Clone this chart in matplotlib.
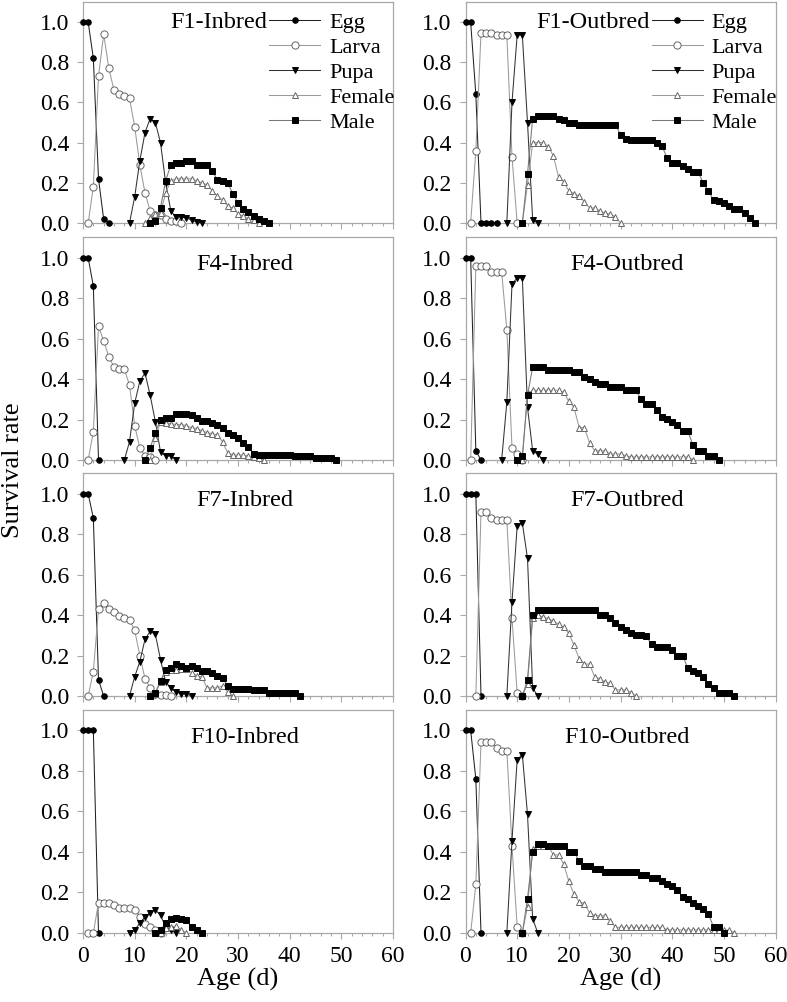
import numpy as np
import matplotlib
matplotlib.use("Agg")
import matplotlib.pyplot as plt
from matplotlib.ticker import MultipleLocator, FormatStrFormatter

plt.rcParams['font.family'] = ['Liberation Serif', 'DejaVu Serif']

# each series: (first day, values day by day)
F1_IN_EGG = (0, [1.0, 1.0, 0.82, 0.22, 0.02, 0.0])
F1_IN_LARVA = (1, [0.0, 0.18, 0.73, 0.94, 0.77, 0.66, 0.64, 0.63, 0.62, 0.48, 0.29, 0.15, 0.06, 0.04, 0.04, 0.02, 0.01, 0.01, 0.0])
F1_IN_PUPA = (9, [0.0, 0.13, 0.31, 0.45, 0.52, 0.50, 0.40, 0.20, 0.06, 0.03, 0.03, 0.025, 0.015, 0.005, 0.0])
F1_IN_FEMALE = (12, [0.0, 0.025, 0.045, 0.05, 0.15, 0.21, 0.22, 0.22, 0.22, 0.22, 0.21, 0.20, 0.19, 0.16, 0.135, 0.115, 0.085, 0.075, 0.045, 0.035, 0.02, 0.015, 0.0])
F1_IN_MALE = (13, [0.0, 0.01, 0.075, 0.21, 0.29, 0.30, 0.30, 0.31, 0.31, 0.29, 0.29, 0.29, 0.26, 0.215, 0.21, 0.20, 0.145, 0.10, 0.07, 0.055, 0.035, 0.02, 0.01, 0.0])

F1_OUT_EGG = (0, [1.0, 1.0, 0.64, 0.0, 0.0, 0.0, 0.0])
F1_OUT_LARVA = (1, [0.0, 0.36, 0.945, 0.945, 0.945, 0.935, 0.935, 0.935, 0.33, 0.0])
F1_OUT_PUPA = (8, [0.0, 0.60, 0.935, 0.935, 0.50, 0.015, 0.0])
F1_OUT_FEMALE = (11, [0.0, 0.19, 0.40, 0.40, 0.40, 0.38, 0.335, 0.23, 0.205, 0.16, 0.145, 0.135, 0.105, 0.075, 0.075, 0.06, 0.05, 0.045, 0.03, 0.0])
F1_OUT_MALE = (11, [0.0, 0.245, 0.52, 0.535, 0.535, 0.535, 0.535, 0.52, 0.513, 0.50, 0.50,
                    0.49, 0.49, 0.49, 0.49, 0.49, 0.49, 0.49, 0.49, 0.44, 0.42,
                    0.415, 0.415, 0.415, 0.415, 0.415, 0.40, 0.385, 0.325, 0.30, 0.30,
                    0.285, 0.27, 0.255, 0.255, 0.20, 0.16, 0.115, 0.11, 0.10, 0.085,
                    0.07, 0.07, 0.05, 0.026, 0.0])

F4_IN_EGG = (0, [1.0, 1.0, 0.86, 0.0])
F4_IN_LARVA = (1, [0.0, 0.14, 0.66, 0.59, 0.51, 0.46, 0.45, 0.45, 0.37, 0.17, 0.06, 0.02, 0.013, 0.0])
F4_IN_PUPA = (8, [0.0, 0.09, 0.28, 0.39, 0.43, 0.32, 0.19, 0.04, 0.02, 0.02, 0.0])
F4_IN_FEMALE = (13, [0.0, 0.11, 0.19, 0.185, 0.18, 0.175, 0.175, 0.17, 0.16, 0.155, 0.145, 0.135, 0.13, 0.125, 0.09, 0.035, 0.025, 0.025, 0.025, 0.02, 0.015, 0.01, 0.0])
F4_IN_MALE = (12, [0.0, 0.06, 0.135, 0.20, 0.21, 0.21, 0.225, 0.225, 0.225, 0.22, 0.21,
                   0.195, 0.195, 0.185, 0.175, 0.16, 0.135, 0.125, 0.11, 0.085, 0.065, 0.03,
                   0.025, 0.025, 0.025, 0.025, 0.025, 0.025, 0.025,
                   0.018, 0.018, 0.018, 0.018, 0.012, 0.012, 0.012, 0.012, 0.0])

F4_OUT_EGG = (0, [1.0, 1.0, 0.045, 0.0])
F4_OUT_LARVA = (1, [0.0, 0.96, 0.96, 0.96, 0.93, 0.93, 0.93, 0.645, 0.06, 0.03, 0.0])
F4_OUT_PUPA = (7, [0.0, 0.285, 0.87, 0.90, 0.90, 0.26, 0.045, 0.03, 0.0])
F4_OUT_FEMALE = (11, [0.0, 0.33, 0.345, 0.345, 0.345, 0.345, 0.345, 0.345, 0.335, 0.29, 0.26,
                      0.16, 0.16, 0.085, 0.045, 0.045, 0.045, 0.03, 0.03, 0.03, 0.02,
                      0.015, 0.015, 0.015, 0.015, 0.015, 0.015, 0.015, 0.015, 0.015, 0.015,
                      0.015, 0.015, 0.0])
F4_OUT_MALE = (10, [0.0, 0.02, 0.32, 0.46, 0.46, 0.46, 0.445, 0.445, 0.445, 0.445, 0.445,
                    0.435, 0.435, 0.41, 0.40, 0.385, 0.375, 0.375, 0.36, 0.36, 0.36,
                    0.345, 0.345, 0.345, 0.30, 0.275, 0.275, 0.245, 0.215, 0.205, 0.19,
                    0.175, 0.145, 0.145, 0.075, 0.045, 0.045, 0.02, 0.02, 0.0])

F7_IN_EGG = (0, [1.0, 1.0, 0.88, 0.08, 0.0])
F7_IN_LARVA = (1, [0.0, 0.12, 0.43, 0.46, 0.43, 0.415, 0.395, 0.385, 0.375, 0.325, 0.20, 0.085, 0.04, 0.012, 0.007, 0.007, 0.0])
F7_IN_PUPA = (9, [0.0, 0.095, 0.17, 0.28, 0.32, 0.305, 0.18, 0.07, 0.04, 0.02, 0.01, 0.01, 0.0])
F7_IN_FEMALE = (13, [0.0, 0.01, 0.07, 0.12, 0.13, 0.13, 0.135, 0.135, 0.115, 0.10, 0.095, 0.04, 0.04, 0.04, 0.05, 0.02, 0.0])
F7_IN_MALE = (13, [0.0, 0.017, 0.075, 0.13, 0.14, 0.16, 0.148, 0.14, 0.148, 0.14, 0.125,
                   0.125, 0.115, 0.10, 0.09, 0.048, 0.036, 0.036, 0.036, 0.036, 0.028,
                   0.028, 0.028, 0.017, 0.017, 0.017, 0.017, 0.017, 0.017, 0.0])

F7_OUT_EGG = (0, [1.0, 1.0, 1.0, 0.0])
F7_OUT_LARVA = (2, [0.0, 0.91, 0.91, 0.88, 0.87, 0.87, 0.87, 0.385, 0.015, 0.0])
F7_OUT_PUPA = (8, [0.0, 0.465, 0.84, 0.855, 0.68, 0.04, 0.0])
F7_OUT_FEMALE = (11, [0.0, 0.06, 0.385, 0.40, 0.39, 0.383, 0.37, 0.355, 0.34, 0.31, 0.25,
                      0.185, 0.158, 0.158, 0.095, 0.084, 0.07, 0.062, 0.03, 0.03, 0.03,
                      0.016, 0.0])
F7_OUT_MALE = (11, [0.0, 0.08, 0.40, 0.425, 0.425, 0.425, 0.425, 0.425, 0.425, 0.425, 0.425,
                    0.425, 0.425, 0.425, 0.425, 0.40, 0.40, 0.385, 0.36, 0.34, 0.325,
                    0.31, 0.30, 0.30, 0.295, 0.255, 0.24, 0.24, 0.24, 0.225, 0.20,
                    0.20, 0.14, 0.125, 0.115, 0.095, 0.058, 0.04, 0.015, 0.015, 0.015, 0.0])

F10_IN_EGG = (0, [1.0, 1.0, 1.0, 0.0])
F10_IN_LARVA = (1, [0.0, 0.0, 0.15, 0.15, 0.15, 0.14, 0.125, 0.125, 0.125, 0.115, 0.08, 0.043, 0.03, 0.013, 0.0])
F10_IN_PUPA = (9, [0.0, 0.013, 0.05, 0.08, 0.10, 0.115, 0.087, 0.03, 0.013, 0.0])
F10_IN_FEMALE = (15, [0.0, 0.025, 0.03, 0.035, 0.015, 0.0])
F10_IN_MALE = (14, [0.0, 0.013, 0.05, 0.07, 0.075, 0.067, 0.062, 0.03, 0.013, 0.0])

F10_OUT_EGG = (0, [1.0, 1.0, 0.76, 0.0])
F10_OUT_LARVA = (1, [0.0, 0.24, 0.94, 0.94, 0.94, 0.915, 0.90, 0.90, 0.43, 0.03, 0.0])
F10_OUT_PUPA = (8, [0.0, 0.455, 0.855, 0.88, 0.585, 0.07, 0.0])
F10_OUT_FEMALE = (11, [0.0, 0.13, 0.415, 0.43, 0.43, 0.43, 0.385, 0.385, 0.34, 0.255, 0.19,
                       0.155, 0.145, 0.10, 0.085, 0.085, 0.085, 0.06,
                       0.028, 0.028, 0.028, 0.028, 0.028, 0.028, 0.028, 0.028, 0.028, 0.028,
                       0.015, 0.015, 0.015, 0.015, 0.015, 0.015, 0.015, 0.015, 0.015, 0.015,
                       0.015, 0.015, 0.015, 0.0])
F10_OUT_MALE = (11, [0.0, 0.17, 0.40, 0.44, 0.44, 0.43, 0.43, 0.43, 0.43, 0.40, 0.40,
                     0.355, 0.33, 0.33, 0.315, 0.315, 0.30, 0.30, 0.30, 0.30, 0.30,
                     0.30, 0.30, 0.285, 0.285, 0.27, 0.27, 0.255, 0.24, 0.23, 0.21,
                     0.18, 0.17, 0.15, 0.135, 0.12, 0.095, 0.03, 0.03, 0.0])

STAGES = ['Egg', 'Larva', 'Pupa', 'Female', 'Male']
PANEL_TITLES = ['F1-Inbred', 'F1-Outbred', 'F4-Inbred', 'F4-Outbred',
                'F7-Inbred', 'F7-Outbred', 'F10-Inbred', 'F10-Outbred']
PANEL_DATA = [
    [F1_IN_EGG, F1_IN_LARVA, F1_IN_PUPA, F1_IN_FEMALE, F1_IN_MALE],
    [F1_OUT_EGG, F1_OUT_LARVA, F1_OUT_PUPA, F1_OUT_FEMALE, F1_OUT_MALE],
    [F4_IN_EGG, F4_IN_LARVA, F4_IN_PUPA, F4_IN_FEMALE, F4_IN_MALE],
    [F4_OUT_EGG, F4_OUT_LARVA, F4_OUT_PUPA, F4_OUT_FEMALE, F4_OUT_MALE],
    [F7_IN_EGG, F7_IN_LARVA, F7_IN_PUPA, F7_IN_FEMALE, F7_IN_MALE],
    [F7_OUT_EGG, F7_OUT_LARVA, F7_OUT_PUPA, F7_OUT_FEMALE, F7_OUT_MALE],
    [F10_IN_EGG, F10_IN_LARVA, F10_IN_PUPA, F10_IN_FEMALE, F10_IN_MALE],
    [F10_OUT_EGG, F10_OUT_LARVA, F10_OUT_PUPA, F10_OUT_FEMALE, F10_OUT_MALE],
]

# marker style for each stage
styles = {
    'Egg':    dict(marker='o', color='#222222', mfc='black', mec='black', ms=4.0),
    'Larva':  dict(marker='o', color='#9a9a9a', mfc='white', mec='#666666', ms=5.2),
    'Pupa':   dict(marker='v', color='#333333', mfc='black', mec='black', ms=4.5),
    'Female': dict(marker='^', color='#9a9a9a', mfc='white', mec='#666666', ms=4.5),
    'Male':   dict(marker='s', color='#777777', mfc='black', mec='black', ms=4.2),
}

fig = plt.figure(figsize=(7.87, 10.02), dpi=100)

W, H = 787.0, 1002.0
col_x = [83.0, 465.5]
panel_w = 310.0
row_top = [2.0, 237.5, 473.5, 710.0]
row_bot = [223.0, 460.0, 696.0, 933.0]
spine_c = '#a8a8a8'

axes = []
for i in range(8):
    r, c = i // 2, i % 2
    ax = fig.add_axes([col_x[c] / W, 1 - row_bot[r] / H, panel_w / W, (row_bot[r] - row_top[r]) / H])
    axes.append(ax)
    for name, (start, vals) in zip(STAGES, PANEL_DATA[i]):
        days = np.arange(start, start + len(vals))
        ax.plot(days, vals, lw=0.75, mew=0.7, label=name, clip_on=False, zorder=3, **styles[name])
    ax.set_xlim(0, 60)
    ax.set_ylim(0, 1.1)
    ax.xaxis.set_major_locator(MultipleLocator(10))
    ax.xaxis.set_minor_locator(MultipleLocator(2))
    ax.set_yticks([0, 0.2, 0.4, 0.6, 0.8, 1.0])
    ax.yaxis.set_major_formatter(FormatStrFormatter('%.1f'))
    ax.tick_params(direction='out', color=spine_c, labelsize=17, length=4, width=0.8)
    ax.tick_params(axis='x', which='minor', direction='out', color=spine_c, length=2.5, width=0.8)
    ax.tick_params(axis='y', pad=6)
    ax.tick_params(axis='x', pad=5)
    for s in ax.spines.values():
        s.set_color(spine_c)
        s.set_linewidth(0.9)
    if r < 3:
        ax.tick_params(axis='x', labelbottom=False)
    else:
        ax.set_xlabel('Age (d)', fontsize=19, labelpad=1)

    if r == 0:
        ax.text(35.6, 1.0, PANEL_TITLES[i], fontsize=17.5, ha='right', va='center')
        ax.legend(loc='upper left', bbox_to_anchor=(0.6, 0.952), frameon=False,
                  fontsize=16, handlelength=2.3, handletextpad=0.4,
                  labelspacing=0.2, borderpad=0, borderaxespad=0)
    else:
        ax.text(31.3, 0.965, PANEL_TITLES[i], fontsize=17.5, ha='center', va='center')

fig.text(13 / W, 1 - 470 / H, 'Survival rate', rotation=90, fontsize=19, ha='center', va='center')

fig.savefig('out.png', dpi=100)
